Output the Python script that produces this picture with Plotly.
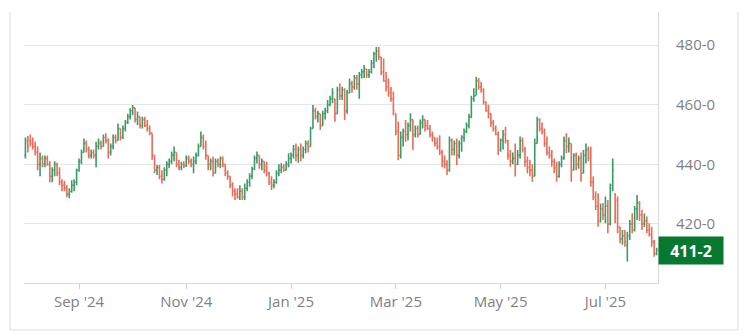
import pandas as pd
import plotly.graph_objects as go

# Daily OHLC, first trading day 2024-08-01
open_ = [443,447,448,447,446,444,440,442,440,442,440,436,438,440,437,434,433,432,430,431,
         433,434,438,441,444,447,445,443,444,443,446,447,446,449,448,444,446,449,448,452,
         449,452,454,456,458,459,455,456,453,455,453,452,450.5,443,438,439,436,435,438,440,
         441,443,444,440,439,440,439.5,442,441,440,441,443,446,449,446,443,440,441,437,441,
         440,442,440,437,436,433,431,430,429,431,429,432,434,436,438.5,442,443,440,441,438,
         437,434,433,434,437,438,439,438,440,442,443,445,443,445,443,445,447,446,452,458,
         456,457,453,457,458,460,462,462,457,465,463,465,458,464,467,466,469,467,470,471,
         472,470,471,474,477,478,476,471,468,466,464,462,457,451,443,449,451,450,453,455,
         450,452,450,454,455,453,452,450,449,447,446,444,441,440,438,448,445,447,443,447,
         449,451,453,456,462,463,468,466,465,461,458,457,454,452,450,445,448,450,448,443,
         441,442,440,443,448,445,441,439,438,436,447,455,452,451,447,444,443,441,439,436,
         440,442,448,446,447,438,443,440,442,437,443,445,442,434,429,426,421,425,423,426,
         420,433,430,428,419,415,416,413,416,420,418,425,427,423,420,421,418,416.5,414,410]
high = [449,449.5,450,449,447.6,446,444,443,443,443,441,439,441,440.5,439,435,434.5,433,432,434.7,
        435,438.6,442,445,448.7,448,446,445,445,447.6,448.7,448,450,450.4,448.7,447,450,450,453.7,452,
        453,454.9,457,458.8,459.9,459,457.7,456,456,456,454.9,453,450.4,443,439.8,439.8,438,439,441,442,
        444.3,446,444,441.5,440.9,441,443,443,442,442.6,444,447,451,450,448,443,442,442.6,442,442,
        442.6,442.6,440,438,436,434,432,432,433,432,433.6,435,437,439.2,443,444.3,443,442,441,440.9,
        437.5,436,435,438,440,440.4,440,441,443.7,444,446.5,447,446,447,446,448,448,452.6,459.9,
        459,458,457,458,459,461.6,463,465.5,462,466,467.2,466,465.5,465,468.8,468,470,470,471,472,
        473.3,472,472,475,477.8,479.4,479.4,476,475.5,471,468.8,466,464.4,457,454.3,451,452,454.9,454,457.1,
        455,453,453,455,456.5,455,454.9,453.2,451,449,449,449.8,444.8,443,441.4,449.3,448.7,448,448.7,448,
        449.8,452,454,457,463,465.5,469.4,469,467.7,465.5,461,460,457.1,454.9,453,451,448.7,451.5,452.6,448.2,
        444.8,444,447,444.8,449.3,449,445.9,442.6,441.5,440,448.7,456,455.5,454,452,449.3,446,444.8,442,440.9,
        441,443,449.3,450.4,449,447,443.7,444,443,444,444.8,447,446,445.9,435.9,431,430.3,426.9,427,429.2,
        428,433.6,442,430.3,429.2,419.1,418,418,417.4,421.3,423.6,426,429.7,427.6,424.7,423.5,422.5,420.2,419.1,414.6,412]
low = [442,444,446,445,443,438,436,439,439,439.5,434,434,436,436,433,431,431,429,428.6,430.5,
       431,433,437.5,440,444,444,442,442,442,439,445,445,446,447,442,443,445,447,448,448,
       448.5,451,453.5,455,456.5,454,453.2,452,452,452.5,451,449.8,441.5,437,436.4,435,433.6,434.5,436,438.7,
       440,441,439,438,438,438.7,439.2,440,439,437,440,442.6,446,445,441.5,438,438,435.9,437,439,
       438.7,439,436,434.8,432,429.2,428,428.5,428,428,428,431,432.5,435,438,440.3,438.5,438,437,435.9,
       433,431.4,432,433.5,436,437,437.5,438,439,440.3,442,441,440.5,441,442,443.7,444,446,452,
       455,454,451.5,453,455,457.1,459.5,460.5,454.3,457,461.6,461.6,454.9,457,463.8,464,465,465,462,468.8,
       469,469,469,470.5,472.2,474.4,475,470,467.7,464.4,462.7,461,456.5,449.8,441.4,442,446,447.6,448,451,
       444.8,449,449,450,452,451,451.5,449,447.6,446,445,443.1,439,438.7,436.4,437.5,443,443,439.8,442,
       444.2,447.6,450.4,452,455.5,461,463.2,465,464,460,457.6,455.4,452.6,451,449.8,443.1,444.2,445,447,441.5,
       439.2,440,435.9,439.8,442,444,439.2,437,436,434.2,436,447,451,450,445.9,443,442,439.2,437,434.2,
       435.5,439,441.5,443.7,444,434.2,438,438,438.5,434.2,437,440.3,441,432.5,428,424.7,419.1,420.5,421.3,420.2,
       416.9,419.5,431,420.2,416.9,413.5,413,412.4,407.4,414.6,416.9,417.5,421.3,421,418,419,417,415.8,412.4,409,409.5]
close = [448,446,447,446,444,440,442,440,442,440,436,438,440,437,434,433,432,430,431,433,
         434,438,441,444,447,445,443,444,443,446,447,446,449,448,444,446,449,448,452,449,
         452,454,456,458,459,455,456,453,455,453,452,450.5,443,438,439,436,435,438,440,441,
         443,444,440,439,440,439.5,442,441,440,441,443,446,449,446,443,440,441,437,441,440,
         442,440,437,436,433,431,430,429,431,429,432,434,436,438.5,442,443,440,441,438,437,
         434,433,434,437,438,439,438,440,442,443,445,443,445,443,445,447,446,452,458,456,
         457,453,457,458,460,462,464,457,465,463,465,458,464,467,466,469,467,470,471,472,
         470,471,474,477,478,476,471,468,466,464,462,458,451,443,449,451,450,453,455,450,
         452,450,454,455,453,452,450,449,447,446,444,441,440,438,448,445,447,443,447,449,
         451,453,456,462,463,468,466,465,461,458,457,454,452,450,445,448,450,448,443,441,
         442,440,443,448,445,441,439,438,436,447,455,452,451,447,444,443,441,439,436,440,
         442,448,446,447,438,443,440,442,437,443,445,442,434,429,426,421,425,423,426,420,
         432,438,422,419,415,416,414,416,420,418,425,427,423,420,421,418,416.5,414,410,411.25]

# fix open for bars that open at a level outside their own range
open_[127] = 462
open_[152] = 457
open_[241] = 433

y_ticks = [420, 440, 460, 480]
y_tick_text = ["420-0", "440-0", "460-0", "480-0"]
x_tick_dates = ["2024-09-02", "2024-11-01", "2025-01-01", "2025-03-03", "2025-05-01", "2025-07-01"]
x_tick_text = ["Sep '24", "Nov '24", "Jan '25", "Mar '25", "May '25", "Jul '25"]

dates = pd.bdate_range("2024-08-01", periods=len(close))

GREEN = "#3a9b66"
RED = "#e86c57"

fig = go.Figure(go.Ohlc(
    x=dates, open=open_, high=high, low=low, close=close,
    increasing=dict(line=dict(color=GREEN, width=1.6)),
    decreasing=dict(line=dict(color=RED, width=1.6)),
    tickwidth=0.45, showlegend=False, hoverinfo="skip",
))


def fmt_eighths(v):
    whole = int(v)
    eighth = int(round((v - whole) * 8))
    return f"{whole}-{eighth}"


fig.add_annotation(
    xref="paper", x=1.0, xanchor="left", yref="y", y=close[-1], yanchor="middle",
    text=f"<b>{fmt_eighths(close[-1])}</b>", showarrow=False,
    bgcolor="#06782f", font=dict(color="white", size=16, family="Open Sans"),
    width=60, height=23, borderpad=2, align="center",
)

frame = dict(type="line", xref="paper", yref="paper", line=dict(color="#dcdcdc", width=1))
fig.add_shape(**frame, x0=-0.0221, x1=-0.0221, y0=1.0, y1=-0.173)
fig.add_shape(**frame, x0=1.1262, x1=1.1262, y0=1.0, y1=-0.173)
fig.add_shape(**frame, x0=-0.0221, x1=1.1262, y0=-0.173, y1=-0.173)

fig.update_layout(
    width=750, height=334,
    margin=dict(l=24, r=92, t=12, b=51),
    paper_bgcolor="white", plot_bgcolor="white",
    font=dict(family="Open Sans", color="#808080"),
    xaxis=dict(
        rangeslider=dict(visible=False),
        rangebreaks=[dict(bounds=["sat", "mon"])],
        range=[dates[0] - pd.Timedelta(hours=14), dates[-1] + pd.Timedelta(hours=14)],
        tickvals=x_tick_dates, ticktext=x_tick_text,
        ticks="outside", ticklen=5, tickcolor="#d0d0d0",
        showline=True, linecolor="#d8d8d8", linewidth=1,
        showgrid=False, zeroline=False,
        tickfont=dict(size=15, color="#7f7f7f"),
    ),
    yaxis=dict(
        side="right", range=[400.2, 491.1],
        tickvals=y_ticks, ticktext=y_tick_text,
        showgrid=True, gridcolor="#e6e6e6", gridwidth=1,
        showline=True, linecolor="#d8d8d8", linewidth=1,
        zeroline=False, ticks="", ticklabelstandoff=14,
        tickfont=dict(size=15, color="#7f7f7f"),
    ),
)

fig.write_html("out.html")
